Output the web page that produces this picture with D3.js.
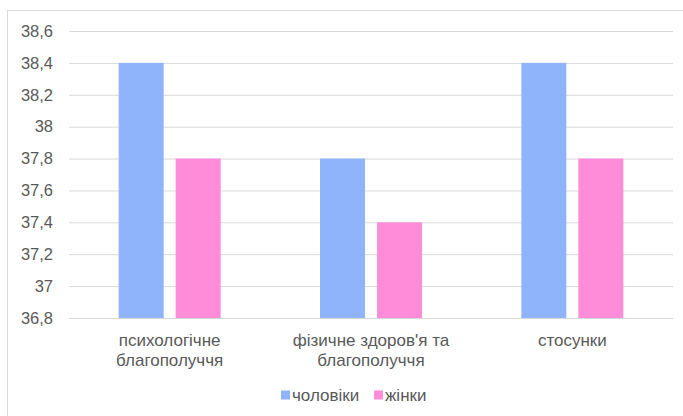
<!DOCTYPE html>
<html>
<head>
<meta charset="utf-8">
<script src="https://cdn.jsdelivr.net/npm/d3@7"></script>
<style>
  html, body { margin: 0; padding: 0; background: #fff; }
  svg { display: block; font-family: Arial, "Liberation Sans", sans-serif; }
</style>
</head>
<body>
<svg id="chart" width="683" height="416"></svg>
<script>
// Categories (multi-line labels) and series values
const categories = [
  ["психологічне", "благополуччя"],
  ["фізичне здоров'я та", "благополуччя"],
  ["стосунки"]
];
const seriesNames = ["чоловіки", "жінки"];
const menValues = [38.4, 37.8, 38.4];
const womenValues = [37.8, 37.4, 37.8];
const seriesColors = ["#8FB4FC", "#FF8CD8"];
const yTicks = [36.8, 37, 37.2, 37.4, 37.6, 37.8, 38, 38.2, 38.4, 38.6];

const svg = d3.select("#chart");
const W = 683, H = 416;
const plotLeft = 69, plotRight = 673, plotTop = 31, plotBottom = 318;

// Outer chart frame
svg.append("rect")
  .attr("x", 7.5).attr("y", 10.5)
  .attr("width", W).attr("height", H)
  .attr("fill", "none").attr("stroke", "#d9d9d9").attr("stroke-width", 1);

const y = d3.scaleLinear().domain([36.8, 38.6]).range([plotBottom, plotTop]);
const x0 = d3.scaleBand().domain(d3.range(categories.length)).range([plotLeft, plotRight]).padding(0);
const barW = 45, barGap = 12;
const groupW = barW * 2 + barGap;
const x1 = d3.scaleBand().domain(d3.range(seriesNames.length))
  .range([0, groupW]).paddingInner(barGap / (barW + barGap)).paddingOuter(0);

// Gridlines and y labels
const yAxis = d3.axisLeft(y).tickValues(yTicks)
  .tickSize(-(plotRight - plotLeft))
  .tickFormat(d => d3.format("~")(d).replace(".", ","));
const gy = svg.append("g").attr("transform", `translate(${plotLeft},0)`).call(yAxis);
gy.select(".domain").remove();
gy.selectAll(".tick line").attr("stroke", "#d9d9d9").attr("stroke-width", 1);
gy.selectAll(".tick text")
  .attr("x", -16).attr("fill", "#595959")
  .style("font-size", "16.5px").style("font-family", "Arial, 'Liberation Sans', sans-serif");

// Bars
const series = [menValues, womenValues];
const groups = svg.append("g").selectAll("g")
  .data(categories.map((c, i) => i))
  .join("g")
  .attr("transform", i => `translate(${x0(i) + (x0.bandwidth() - groupW) / 2},0)`);
groups.selectAll("rect")
  .data(i => series.map((s, k) => ({ k, v: s[i] })))
  .join("rect")
  .attr("x", d => x1(d.k))
  .attr("width", x1.bandwidth())
  .attr("y", d => y(d.v))
  .attr("height", d => y(36.8) - y(d.v))
  .attr("fill", d => seriesColors[d.k]);

// Baseline redrawn on top
svg.append("line")
  .attr("x1", plotLeft).attr("x2", plotRight)
  .attr("y1", y(36.8) + 0.5).attr("y2", y(36.8) + 0.5)
  .attr("stroke", "#d9d9d9").attr("stroke-width", 1);

// Category labels
const cat = svg.append("g").selectAll("text")
  .data(categories)
  .join("text")
  .attr("x", (c, i) => x0(i) + x0.bandwidth() / 2)
  .attr("y", 346)
  .attr("text-anchor", "middle")
  .attr("fill", "#595959")
  .style("font-size", "17px");
cat.selectAll("tspan")
  .data(c => c)
  .join("tspan")
  .attr("x", function () { return this.parentNode.getAttribute("x"); })
  .attr("dy", (d, j) => j === 0 ? 0 : 19.5)
  .text(d => d);

// Legend
const legend = svg.append("g");
const legendItems = [
  { name: seriesNames[0], color: seriesColors[0], x: 281 },
  { name: seriesNames[1], color: seriesColors[1], x: 374 }
];
legendItems.forEach(it => {
  legend.append("rect")
    .attr("x", it.x).attr("y", 390.5)
    .attr("width", 9).attr("height", 9)
    .attr("fill", it.color);
  legend.append("text")
    .attr("x", it.x + 11).attr("y", 401)
    .attr("fill", "#595959")
    .style("font-size", "17px")
    .text(it.name);
});
</script>
</body>
</html>
